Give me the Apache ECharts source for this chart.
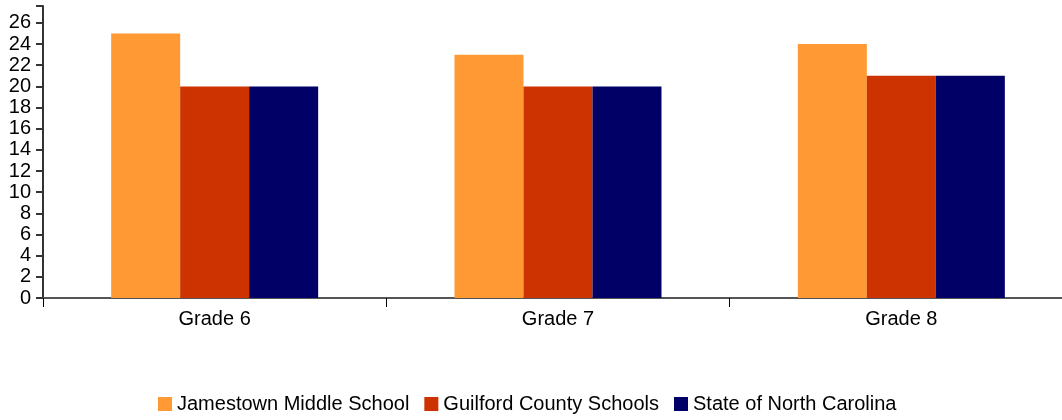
<!DOCTYPE html>
<html><head><meta charset="utf-8">
<script src="https://cdn.jsdelivr.net/npm/echarts@6/dist/echarts.min.js"></script>
<style>html,body{margin:0;padding:0;background:#fff;overflow:hidden}#c{width:1073px;height:420px}</style>
</head><body><div id="c"></div>
<script>
const categories = ["Grade 6", "Grade 7", "Grade 8"];
const jamestown = [25, 23, 24];
const guilford = [20, 20, 21];
const stateNC = [20, 20, 21];
const seriesNames = ["Jamestown Middle School", "Guilford County Schools", "State of North Carolina"];
const colors = ["#FF9933", "#CC3300", "#000066"];

const chart = echarts.init(document.getElementById('c'));
const font = 'Liberation Sans, Arial, sans-serif';
chart.setOption({
  animation: false,
  grid: {left: 43, right: 0, top: 6, height: 292},
  legend: {
    top: 389, left: 153, itemWidth: 14, itemHeight: 14, itemGap: 15,
    icon: 'rect',
    textStyle: {fontFamily: font, fontSize: 20, color: '#000'},
    data: seriesNames
  },
  xAxis: {
    type: 'category', data: categories,
    axisLine: {show: true, lineStyle: {color: '#555', width: 2}},
    axisTick: {show: true, length: 9, lineStyle: {color: '#000', width: 1}},
    axisLabel: {fontFamily: font, fontSize: 20, color: '#000', margin: 11}
  },
  yAxis: {
    type: 'value', min: 0, max: 27.6, interval: 2,
    splitLine: {show: false},
    axisLine: {show: true, lineStyle: {color: '#333', width: 2}},
    axisTick: {show: true, length: 7, lineStyle: {color: '#333', width: 2}},
    axisLabel: {fontFamily: font, fontSize: 20, color: '#000', margin: 12,
      formatter: v => (v % 2 === 0 ? String(v) : '')}
  },
  series: [
    {name: seriesNames[0], type: 'bar', data: jamestown, barWidth: 69, barGap: '0%', itemStyle: {color: colors[0]}},
    {name: seriesNames[1], type: 'bar', data: guilford, barWidth: 69, barGap: '0%', itemStyle: {color: colors[1]}},
    {name: seriesNames[2], type: 'bar', data: stateNC, barWidth: 69, barGap: '0%', itemStyle: {color: colors[2]}}
  ]
});
</script></body></html>
